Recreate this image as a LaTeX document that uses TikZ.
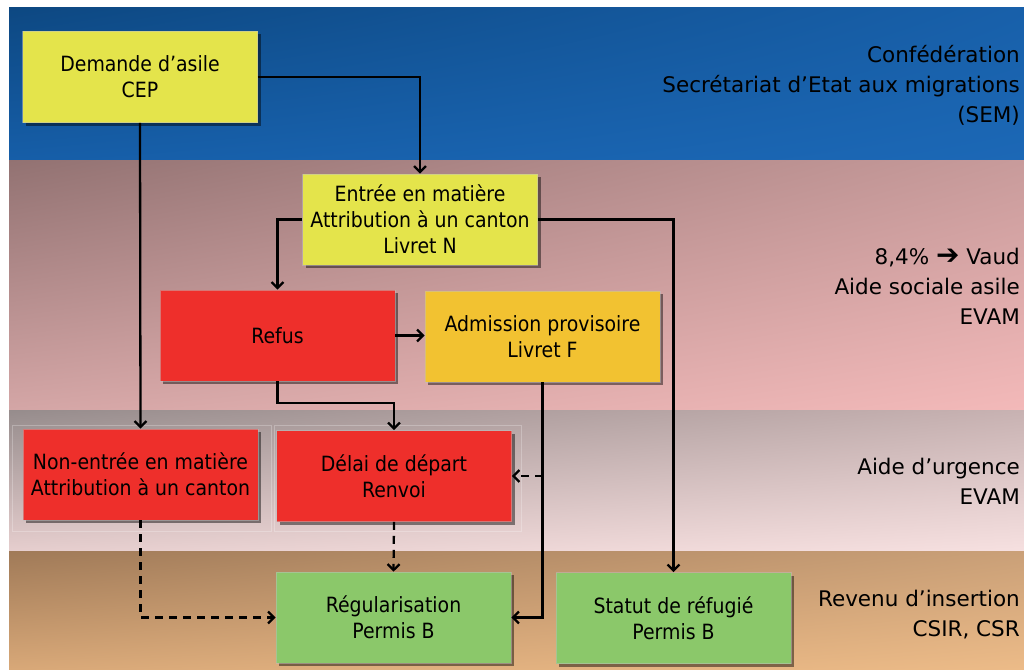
\documentclass[tikz,border=0pt]{standalone}
\usepackage{fontspec}
\setmainfont{DejaVu Sans}
\newfontfamily\boxfont[FakeStretch=0.9]{DejaVu Sans}
\usetikzlibrary{arrows.meta,shadows,calc,shadings}
\definecolor{yelbox}{HTML}{E4E44B}
\definecolor{redbox}{HTML}{EE2F2B}
\definecolor{orabox}{HTML}{F2C231}
\definecolor{grebox}{HTML}{8BC86A}
\definecolor{bUL}{RGB}{13,72,130}
\definecolor{bUR}{RGB}{24,96,170}
\definecolor{bLL}{RGB}{22,94,168}
\definecolor{bLR}{RGB}{28,104,182}
\definecolor{pUL}{RGB}{146,114,114}
\definecolor{pUR}{RGB}{200,155,155}
\definecolor{pLL}{RGB}{212,166,166}
\definecolor{pLR}{RGB}{243,185,185}
\definecolor{gUL}{RGB}{150,140,140}
\definecolor{gUR}{RGB}{200,178,178}
\definecolor{gLL}{RGB}{230,206,206}
\definecolor{gLR}{RGB}{246,224,224}
\definecolor{tUL}{RGB}{160,122,88}
\definecolor{tUR}{RGB}{202,160,120}
\definecolor{tLL}{RGB}{216,168,120}
\definecolor{tLR}{RGB}{236,187,136}
\begin{document}
\begin{tikzpicture}[x=1pt,y=-1pt,
  box/.style={minimum width=235pt, minimum height=91pt, inner sep=2pt, align=center,
    font=\boxfont\fontsize{21}{26}\selectfont, text=black,
    draw=black!25, draw opacity=0.5, line width=0.6pt,
    drop shadow={shadow xshift=3pt, shadow yshift=-3pt, opacity=0.45, fill=black}},
  lab/.style={anchor=east, align=right, font=\fontsize{21.5}{30}\selectfont, text=black, inner sep=0pt},
  conn/.style={line width=2.3pt, -{Straight Barb[length=6pt,width=12pt]}},
  dconn/.style={conn, dash pattern=on 8pt off 6pt},
  frm/.style={draw=white, draw opacity=0.25, line width=0.8pt}]
\useasboundingbox (0,0) rectangle (1024,669);
\fill[white] (0,0) rectangle (1024,669);
% bands
\shade[upper left=bUL, upper right=bUR, lower left=bLL, lower right=bLR] (9,8) rectangle (1024,160);
\shade[upper left=pUL, upper right=pUR, lower left=pLL, lower right=pLR] (9,160) rectangle (1024,410);
\shade[upper left=gUL, upper right=gUR, lower left=gLL, lower right=gLR] (9,410) rectangle (1024,551);
\shade[upper left=tUL, upper right=tUR, lower left=tLL, lower right=tLR] (9,551) rectangle (1024,669);
% faint frames
\draw[frm] (12,425) rectangle (271,531);
\draw[frm] (274,425) rectangle (521,531);
% nodes
\node[box, fill=yelbox] (dem) at (140,77) {Demande d’asile\\CEP};
\node[box, fill=yelbox] (ent) at (420,219.5) {Entrée en matière\\Attribution à un canton\\Livret N};
\node[box, fill=redbox] (ref) at (277.5,335.5) {Refus};
\node[box, fill=orabox] (adm) at (542.5,336.5) {Admission provisoire\\Livret F};
\node[box, fill=redbox] (non) at (140.5,474.5) {Non-entrée en matière\\Attribution à un canton};
\node[box, fill=redbox] (del) at (394,476) {Délai de départ\\Renvoi};
\node[box, fill=grebox] (reg) at (393.5,617.5) {Régularisation\\Permis B};
\node[box, fill=grebox] (sta) at (673.5,618) {Statut de réfugié\\Permis B};
% labels
\node[lab] (l1) at (1020,85) {Confédération\\Secrétariat d’Etat aux migrations\\(SEM)};
\node[lab] (l2) at (1020,286) {8,4\% \raisebox{-0.5pt}{\scalebox{1.3}{➔}} Vaud\\Aide sociale asile\\EVAM};
\node[lab] (l3) at (1020,481) {Aide d’urgence\\EVAM};
\node[lab] (l4) at (1020,615) {Revenu d’insertion\\CSIR, CSR};
% connectors
\draw[conn] (dem.east) -| (ent.north);
\draw[conn] (dem.south) -- (non.north);
\draw[conn] (ent.west) -| (ref.north);
\draw[conn] (ent.east) -| (sta.north);
\draw[conn] (ref.east) -- (ref.east -| adm.west);
\coordinate (rk) at ($(ref.south)+(0,22)$);
\draw[conn] (ref.south) -- (rk) -| (del.north);
\draw[conn] (adm.south) |- (reg.east);
\coordinate (ak) at (adm.south |- del.east);
\draw[dconn] (ak) -- (del.east);
\draw[dconn] (non.south) |- (reg.west);
\draw[dconn] (del.south) -- (reg.north);
\end{tikzpicture}
\end{document}
